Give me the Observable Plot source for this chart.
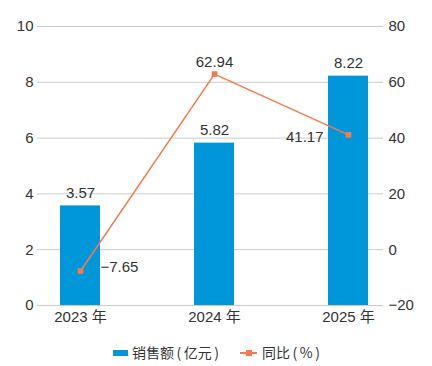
<!DOCTYPE html>
<html><head><meta charset="utf-8">
<script src="https://cdn.jsdelivr.net/npm/d3@7"></script>
<script src="https://cdn.jsdelivr.net/npm/@observablehq/plot@0.6"></script>
<style>
body{margin:0;background:#fff;font-family:"Liberation Sans","Noto Sans CJK SC",sans-serif;color:#333;}
#chart svg{display:block;}
#legend{position:absolute;left:0;top:342px;width:432px;height:20px;font-family:"Noto Sans CJK SC",sans-serif;font-size:14px;color:#333;}
.item{position:absolute;top:0;height:20px;line-height:20px;white-space:nowrap;}
.sw{position:absolute;}
.p{display:inline-block;margin:0 2.5px;}
</style></head>
<body>
<div id="chart"></div>
<div id="legend"></div>
<script>
const years = ["2023 年", "2024 年", "2025 年"];
const sales = [3.57, 5.82, 8.22];
const yoy = [-7.65, 62.94, 41.17];
const leftTicks = [0, 2, 4, 6, 8, 10];
const rightTicks = [-20, 0, 20, 40, 60, 80];
const seriesNames = ["销售额(亿元)", "同比(%)"];

const BLUE = "#0096da", ORANGE = "#f47b4a";
const rMin = -20, rMax = 80, lMin = 0, lMax = 10;
const toL = v => lMin + (v - rMin) / (rMax - rMin) * (lMax - lMin);
const fmt = v => (v < 0 ? "\u2212" : "") + Math.abs(v);
const fmt2 = v => (v < 0 ? "\u2212" : "") + Math.abs(v).toFixed(2);

const data = years.map((y, i) => ({year: y, sales: sales[i], yoy: yoy[i], yl: toL(yoy[i])}));

const chart = Plot.plot({
  width: 432, height: 330,
  marginTop: 26, marginBottom: 25, marginLeft: 37, marginRight: 49,
  style: {fontFamily: "'Liberation Sans','Noto Sans CJK SC',sans-serif", fontSize: "15px", color: "#333"},
  x: {type: "band", domain: years, paddingInner: 0.7, paddingOuter: 0.141, align: 0.61, label: null},
  y: {domain: [lMin, lMax], label: null},
  marks: [
    Plot.gridY(leftTicks, {stroke: "#cccccc", strokeOpacity: 1, strokeWidth: 1}),
    Plot.axisY(leftTicks, {anchor: "left", tickSize: 0, tickPadding: 4, fontSize: 15, label: null, fill: "#333"}),
    Plot.axisY(rightTicks.map(toL), {anchor: "right", tickSize: 0, tickPadding: 5, fontSize: 15, label: null, fill: "#333",
      tickFormat: (d, i) => fmt(rightTicks[i])}),
    Plot.axisX({tickSize: 0, tickPadding: 6, fontSize: 15, label: null, fill: "#333"}),
    Plot.barY(data, {x: "year", y: "sales", fill: BLUE}),
    Plot.text(data, {x: "year", y: "sales", text: d => d.sales.toFixed(2), dy: -13, fontSize: 15, fill: "#333"}),
    Plot.line(data, {x: "year", y: "yl", stroke: ORANGE, strokeWidth: 1.5}),
    Plot.dot(data, {x: "year", y: "yl", symbol: "square", fill: ORANGE, r: 3.2}),
    Plot.text(data.filter((d, i) => i === 0), {x: "year", y: "yl", text: d => fmt2(d.yoy), textAnchor: "start", dx: 20, dy: -4, fontSize: 15, fill: "#333"}),
    Plot.text(data.filter((d, i) => i === 1), {x: "year", y: "yl", text: d => fmt2(d.yoy), dy: -12, fontSize: 15, fill: "#333"}),
    Plot.text(data.filter((d, i) => i === 2), {x: "year", y: "yl", text: d => fmt2(d.yoy), textAnchor: "end", dx: -25, dy: 2, fontSize: 15, fill: "#333"})
  ]
});
document.getElementById("chart").appendChild(chart);

const legend = document.getElementById("legend");
function withParens(s) {
  return s.replace("(", "<span class='p'>(</span>").replace(")", "<span class='p'>)</span>");
}
legend.innerHTML =
  `<div class="item" style="left:113px;"><span class="sw" style="left:0;top:8px;width:15px;height:6px;background:${BLUE}"></span><span style="margin-left:19px">${withParens(seriesNames[0])}</span></div>` +
  `<div class="item" style="left:240px;"><span class="sw" style="left:0;top:10px;width:17px;height:2px;background:${ORANGE}"></span><span class="sw" style="left:5.5px;top:8px;width:6px;height:6px;background:${ORANGE}"></span><span style="margin-left:22px">${withParens(seriesNames[1])}</span></div>`;
</script>
</body></html>
